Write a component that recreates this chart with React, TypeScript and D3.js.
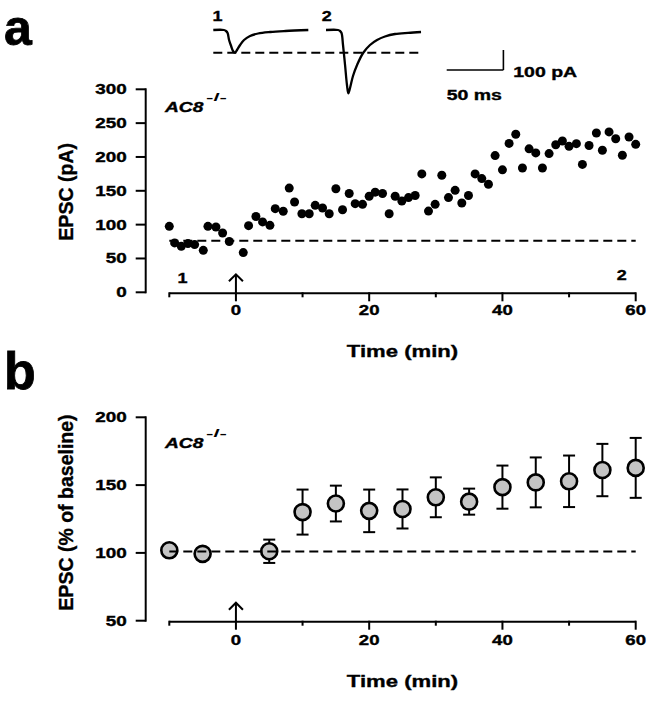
import React from "react";
import * as d3 from "d3";

// ---------- data ----------
const timesA = [-10,-9.2,-8.2,-7.2,-6.2,-4.9,-4.2,-3,-2,-1,1.1,1.9,3,4,5.1,5.9,7.1,8,8.8,9.9,11,11.9,13,14,15,16,17,17.9,19,20,20.9,22,23,23.9,24.9,25.9,26.9,27.9,28.9,29.9,30.9,31.9,32.9,33.9,34.9,35.9,36.9,37.9,38.9,40,41,42,43,44,45,46,47,48,49,50,51.1,52,53,54.1,55,56,57,58,59,60];
const epscA = [97.5,73,68,72,70.5,62,97.5,96.5,87.7,75,58.7,98.5,112,104,99,123.6,119.7,154,133.5,116,116,128.5,124.6,116,153,122,146,131,130,142,148,146,116,142,135,140,143,175,120,130,173,140,150.7,132,143,175,168,159.6,202,181,220,233.5,183.7,212,206,183.7,205,218,223.6,215.7,219.7,189,217,235.5,210,237,227,202.5,229.5,218.7];
const baselineA = 76;

const timesB = [-10,-5,5,10,15,20,25,30,35,40,45,50,55,60];
const meanB = [101.9,99.3,101.2,130.1,136.4,131,132.4,141,137.8,148.5,152,152.8,161.1,162.7];
const errB = [2,2,8.6,16.6,13.2,15.7,14.4,14.7,9.6,15.9,18.4,19,19.3,22.1];
const baselineB = 101;

const yTicksA = [0,50,100,150,200,250,300];
const yTicksB = [50,100,150,200];
const xMajor = [0,20,40,60];
const xMinor = [-10,10,30,50];

// traces (ms, pA)
const trace1T = [0,9.4,11.2,12.6,13.9,15.7,17.4,19.2,20.9,23.6,27.1,32.4,39.5,50.2,63.5,83.8];
const trace1I = [0,0,-5,-15,-50,-80,-105,-113.5,-100,-75,-50,-30,-17.5,-10,-5,0];
const trace2T = [0,10.6,12.4,13.7,15,16.8,18.5,19.7,21.2,23.8,27.4,32.7,38.8,45,52,60.9,72.4,83.8];
const trace2I = [0,0,-5,-15,-75,-175,-275,-316.5,-290,-230,-175,-115,-75,-50,-32.5,-20,-14,-10];
const peak1 = -113.5;

const FONT = "Liberation Sans, Arial, Helvetica, sans-serif";

function T({ x, y, size = 14, sx = 1.33, anchor = "start", italic = false, children }: any) {
  return (
    <text
      transform={`translate(${x},${y}) scale(${sx},1)`}
      textAnchor={anchor}
      fontSize={size}
      fontWeight="bold"
      fontStyle={italic ? "italic" : "normal"}
      fontFamily={FONT}
      fill="#000"
      stroke="#000"
      strokeWidth={0.35}
    >
      {children}
    </text>
  );
}

export default function App() {
  const x = d3.scaleLinear().domain([-10, 60]).range([169.3, 635.7]);
  const yA = d3.scaleLinear().domain([0, 300]).range([292.3, 89.3]);
  const yB = d3.scaleLinear().domain([50, 200]).range([620.7, 417.3]);
  const axisYA = 293.3;
  const axisYB = 621.7;
  const yAxisX = 145.7;

  // trace scales
  const pxPerMs = 56.7 / 50;
  const yT = d3.scaleLinear().domain([0, -100]).range([30, 50]);
  const xT1 = d3.scaleLinear().domain([0, 50]).range([213.3, 213.3 + 50 * pxPerMs]);
  const xT2 = d3.scaleLinear().domain([0, 50]).range([326, 326 + 50 * pxPerMs]);
  const xBar = d3.scaleLinear().domain([0, 50]).range([446.7, 446.7 + 50 * pxPerMs]);
  const yBar = d3.scaleLinear().domain([0, 100]).range([70, 50]);

  const lineGen = (xs: any) =>
    d3
      .line<[number, number]>()
      .x((d) => xs(d[0]))
      .y((d) => yT(d[1]))
      .curve(d3.curveCatmullRom.alpha(0.5));

  const t1 = lineGen(xT1)(trace1T.map((t, i) => [t, trace1I[i]]) as any) || "";
  const t2 = lineGen(xT2)(trace2T.map((t, i) => [t, trace2I[i]]) as any) || "";

  const xAxis = (ay: number) => (
    <g stroke="#000" strokeWidth={2}>
      <line x1={x(-10)} x2={x(60)} y1={ay} y2={ay} />
      {xMajor.map((v) => (
        <line key={"M" + v} x1={x(v)} x2={x(v)} y1={ay - 1} y2={ay + 8} />
      ))}
      {xMinor.map((v) => (
        <line key={"m" + v} x1={x(v)} x2={x(v)} y1={ay - 1} y2={ay + 4} />
      ))}
    </g>
  );

  const arrow = (ay: number) => {
    const ax = x(0);
    const top = ay - 19;
    return (
      <g stroke="#000" strokeWidth={2} fill="none">
        <line x1={ax} x2={ax} y1={top} y2={ay} />
        <polyline points={`${ax - 7},${top + 7} ${ax},${top} ${ax + 7},${top + 7}`} />
      </g>
    );
  };

  const yAxis = (ys: any, ticks: number[], fmtY = 5) => (
    <g>
      <line x1={yAxisX} x2={yAxisX} y1={ys(ticks[ticks.length - 1]) - 1} y2={ys(ticks[0]) + 1} stroke="#000" strokeWidth={2} />
      {ticks.map((v) => (
        <g key={v}>
          <line x1={yAxisX - 10} x2={yAxisX} y1={ys(v)} y2={ys(v)} stroke="#000" strokeWidth={2} />
          <T x={126.7} y={ys(v) + fmtY} anchor="end" sx={1.35}>
            {v}
          </T>
        </g>
      ))}
    </g>
  );

  return (
    <svg
      width={666}
      height={702}
      style={{ position: "absolute", left: 0, top: 0, background: "#fff" }}
    >
      <rect width={666} height={702} fill="#fff" />

      {/* panel letters */}
      <text x={4} y={45} fontSize={50} fontWeight="bold" fontFamily={FONT} stroke="#000" strokeWidth={0.8}>a</text>
      <text x={4} y={389} fontSize={52} fontWeight="bold" fontFamily={FONT} stroke="#000" strokeWidth={0.8}>b</text>

      {/* traces */}
      <T x={217.5} y={20.7} size={15} anchor="middle" sx={1.2}>1</T>
      <T x={326.7} y={20.7} size={15} anchor="middle" sx={1.2}>2</T>
      <path d={t1} fill="none" stroke="#000" strokeWidth={2.3} />
      <path d={t2} fill="none" stroke="#000" strokeWidth={2.3} />
      <line x1={xT1(0)} x2={xT2(83.8)} y1={yT(peak1)} y2={yT(peak1)} stroke="#000" strokeWidth={2} strokeDasharray="9,5" />
      {/* scale bar */}
      <g stroke="#000" strokeWidth={1.6}>
        <line x1={xBar(0)} x2={xBar(50)} y1={yBar(0)} y2={yBar(0)} />
        <line x1={xBar(50)} x2={xBar(50)} y1={yBar(0)} y2={yBar(100)} />
      </g>
      <T x={513.3} y={77} size={14} sx={1.39}>100 pA</T>
      <T x={446.7} y={100} size={14} sx={1.39}>50 ms</T>

      {/* ---------- panel a ---------- */}
      {yAxis(yA, yTicksA)}
      {xAxis(axisYA)}
      {xMajor.map((v) => (
        <T key={v} x={x(v)} y={315} anchor="middle">{v}</T>
      ))}
      <T x={402.5} y={357} size={17} anchor="middle" sx={1.3}>Time (min)</T>
      <text transform="translate(73.3,191.7) rotate(-90)" textAnchor="middle" fontSize={19.5} fontWeight="bold" fontFamily={FONT} stroke="#000" strokeWidth={0.35}>EPSC (pA)</text>
      <T x={165} y={111.7} italic sx={1.37}>AC8</T>
      <text x={206} y={101} fontSize={11} fontWeight="bold" fontFamily={FONT} textLength={21} lengthAdjust="spacingAndGlyphs">-/-</text>
      <T x={182.5} y={283} size={15} anchor="middle" sx={1.2}>1</T>
      <T x={621.7} y={280} size={15} anchor="middle" sx={1.2}>2</T>
      {arrow(axisYA)}
      <line x1={x(-10)} x2={x(60)} y1={yA(baselineA)} y2={yA(baselineA)} stroke="#000" strokeWidth={2} strokeDasharray="9,5" />
      {timesA.map((t, i) => (
        <circle key={i} cx={x(t)} cy={yA(epscA[i])} r={4.5} fill="#000" />
      ))}

      {/* ---------- panel b ---------- */}
      {yAxis(yB, yTicksB)}
      {xAxis(axisYB)}
      {xMajor.map((v) => (
        <T key={v} x={x(v)} y={645} anchor="middle">{v}</T>
      ))}
      <T x={402.5} y={687} size={17} anchor="middle" sx={1.3}>Time (min)</T>
      <text transform="translate(73.3,512.5) rotate(-90)" textAnchor="middle" fontSize={19.5} fontWeight="bold" fontFamily={FONT} stroke="#000" strokeWidth={0.35}>EPSC (% of baseline)</text>
      <T x={165} y={448} italic sx={1.37}>AC8</T>
      <text x={206} y={437} fontSize={11} fontWeight="bold" fontFamily={FONT} textLength={21} lengthAdjust="spacingAndGlyphs">-/-</text>
      {arrow(axisYB)}
      {timesB.map((t, i) => {
        const cx = x(t);
        const top = yB(meanB[i] + errB[i]);
        const bot = yB(meanB[i] - errB[i]);
        return (
          <g key={i} stroke="#000" strokeWidth={2}>
            <line x1={cx} x2={cx} y1={top} y2={bot} />
            <line x1={cx - 6} x2={cx + 6} y1={top} y2={top} />
            <line x1={cx - 6} x2={cx + 6} y1={bot} y2={bot} />
          </g>
        );
      })}
      {timesB.map((t, i) => (
        <circle key={i} cx={x(t)} cy={yB(meanB[i])} r={8} fill="#c4c4c4" stroke="#000" strokeWidth={2.6} />
      ))}
      <line x1={x(-10)} x2={x(60)} y1={yB(baselineB)} y2={yB(baselineB)} stroke="#000" strokeWidth={2} strokeDasharray="9,5" />
    </svg>
  );
}
